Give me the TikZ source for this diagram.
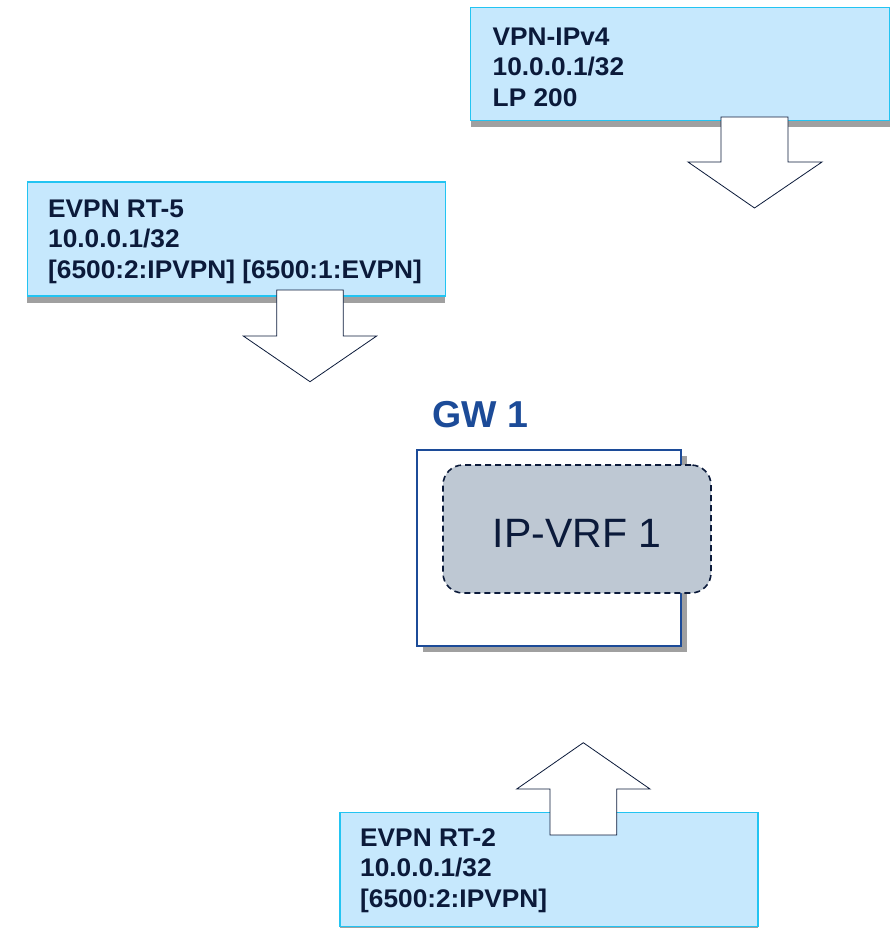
\documentclass[tikz,border=0pt]{standalone}
\usepackage{fontspec}
\setmainfont{Liberation Sans}
\newfontfamily\lblfont[FakeStretch=1.03]{Liberation Sans}
\usetikzlibrary{shadows}
\definecolor{boxfill}{HTML}{C6E8FD}
\definecolor{boxline}{HTML}{22C4F2}
\definecolor{txtnavy}{HTML}{0B1A3A}
\definecolor{gwblue}{HTML}{1C4B98}
\definecolor{vrffill}{HTML}{BEC8D3}
\definecolor{shadowgray}{HTML}{A0A0A0}
\tikzset{
  infobox/.style={draw=boxline, line width=1.5pt, fill=boxfill, rectangle, inner sep=0pt,
    drop shadow={shadow xshift=0pt, shadow yshift=-6.5pt, fill=shadowgray, opacity=1}},
  lbl/.style={inner sep=0pt, anchor=base west, align=left, text=txtnavy,
    font=\lblfont\fontsize{25.5}{30.7}\selectfont\bfseries},
  bigarrow/.style={draw=txtnavy, line width=0.8pt, fill=white, line join=miter},
  gwbox/.style={draw=gwblue, line width=2pt, fill=white, rectangle, inner sep=0pt,
    drop shadow={shadow xshift=6pt, shadow yshift=-6pt, fill=shadowgray, opacity=1}},
  vrfbox/.style={draw=txtnavy, line width=1.6pt, dash pattern=on 6pt off 4pt, fill=vrffill,
    rounded corners=20pt, rectangle, inner sep=0pt, text=txtnavy,
    font=\fontsize{42}{48}\selectfont},
}
\begin{document}
\begin{tikzpicture}[x=1pt,y=-1pt]
\useasboundingbox (0,0) rectangle (895,928);

% info boxes
\node[infobox, minimum width=419pt, minimum height=113pt] (vpn) at (680,64) {};
\node[infobox, minimum width=418pt, minimum height=114pt] (rt5) at (236.25,239) {};
\node[infobox, minimum width=418pt, minimum height=114pt] (rt2) at (549,869.5) {};

% (anchor = baseline of the last line)
\node[lbl] (vpnt) at (492.5,106.5) {VPN-IPv4\\10.0.0.1/32\\LP 200};
\node[lbl] (rt5t) at (48,278.5) {EVPN RT-5\\10.0.0.1/32\\{[6500:2:IPVPN] [6500:1:EVPN]}};
\node[lbl] (rt2t) at (360,907.5) {EVPN RT-2\\10.0.0.1/32\\{[6500:2:IPVPN]}};

% gateway
\node[inner sep=0pt, anchor=base west, text=gwblue, font=\fontsize{37.5}{40}\selectfont\bfseries] (gwt) at (432.5,427) {GW 1};
\node[gwbox, minimum width=264pt, minimum height=196pt] (gw) at (549,548) {};
\node[vrfbox, minimum width=268pt, minimum height=128pt] (vrf) at (577,529) {};
\node[inner sep=0pt, anchor=base, text=txtnavy, font=\fontsize{41}{48}\selectfont] (vrft) at (577,547) {IP-VRF 1};

% arrows
\draw[bigarrow] (721,117) -- (788,117) -- (788,162) -- (822,162) -- (754.5,208)
  -- (688,162) -- (721,162) -- cycle;
\draw[bigarrow] (276.7,290) -- (343.3,290) -- (343.3,336) -- (376.7,336) -- (310,381.7)
  -- (243.3,336) -- (276.7,336) -- cycle;
\draw[bigarrow] (550,835) -- (616.7,835) -- (616.7,789) -- (650,789) -- (583.3,742.7)
  -- (516.7,789) -- (550,789) -- cycle;
\end{tikzpicture}
\end{document}
